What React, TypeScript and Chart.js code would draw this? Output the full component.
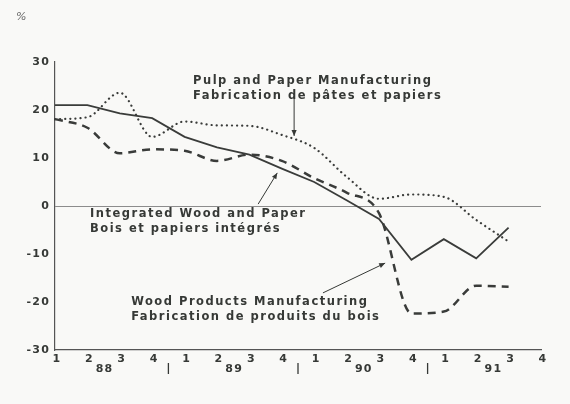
import { useEffect, useRef } from "react";
import { Chart, registerables } from "chart.js";

Chart.register(...registerables);

// ---- data ----
const quarters = ["1", "2", "3", "4", "1", "2", "3", "4", "1", "2", "3", "4", "1", "2", "3", "4"];
const years = ["88", "89", "90", "91"];
const yTicks = [30, 20, 10, 0, -10, -20, -30];

const integrated = [21, 21, 19.3, 18.3, 14.4, 12.2, 10.7, 7.8, 5, 1.2, -2.7, -11.2, -6.9, -10.9, -4.5, null];
const pulp = [18.1, 18.5, 23.6, 14.4, 17.6, 16.8, 16.7, 14.8, 12.1, 6.1, 1.5, 2.4, 1.9, -2.9, -7.4, null];
const wood = [18.1, 16.3, 11, 11.8, 11.5, 9.4, 10.7, 9.4, 5.8, 2.8, -1.5, -22.4, -22, -16.6, -16.8, null];

const pulpLabel = ["Pulp and Paper Manufacturing", "Fabrication de pâtes et papiers"];
const integratedLabel = ["Integrated Wood and Paper", "Bois et papiers intégrés"];
const woodLabel = ["Wood Products Manufacturing", "Fabrication de produits du bois"];

// annotation anchors in data units (x = quarter index, y = percent)
const annotations = [
  { lines: pulpLabel, tx: 4.26, ty: 26, ax0: 7.38, ay0: 22.4, ax1: 7.38, ay1: 14.6 },
  { lines: integratedLabel, tx: 1.08, ty: -1.7, ax0: 6.27, ay0: 0.4, ax1: 6.86, ay1: 6.9 },
  { lines: woodLabel, tx: 2.35, ty: -20, ax0: 8.27, ay0: -18.1, ax1: 10.19, ay1: -11.9 },
];

const INK = "#363936";
const LINE = "#3a3c3a";
const TEXT_FONT = "bold 11.5px 'DejaVu Sans'";
const TICK_FONT = "bold 11px 'DejaVu Sans'";

function arrowHead(ctx: CanvasRenderingContext2D, x0: number, y0: number, x1: number, y1: number) {
  const ang = Math.atan2(y1 - y0, x1 - x0);
  const len = 6;
  const w = 2.6;
  ctx.beginPath();
  ctx.moveTo(x1, y1);
  ctx.lineTo(x1 - len * Math.cos(ang) + w * Math.sin(ang), y1 - len * Math.sin(ang) - w * Math.cos(ang));
  ctx.lineTo(x1 - len * Math.cos(ang) - w * Math.sin(ang), y1 - len * Math.sin(ang) + w * Math.cos(ang));
  ctx.closePath();
  ctx.fill();
}

const decor = {
  id: "decor",
  beforeDraw(chart: any) {
    const { ctx, width, height } = chart;
    ctx.save();
    ctx.fillStyle = "#f9f9f7";
    ctx.fillRect(0, 0, width, height);
    ctx.restore();
  },
  afterDraw(chart: any) {
    const { ctx, chartArea } = chart;
    const x = chart.scales.x;
    const y = chart.scales.y;
    ctx.save();
    ctx.fillStyle = INK;
    ctx.strokeStyle = INK;
    (ctx as any).letterSpacing = "1.2px";

    // y tick labels
    ctx.font = TICK_FONT;
    ctx.textAlign = "right";
    ctx.textBaseline = "middle";
    yTicks.forEach((v) => {
      ctx.fillText(String(v), chartArea.left - 5, y.getPixelForValue(v));
    });

    // x tick labels
    ctx.textAlign = "center";
    quarters.forEach((q, i) => {
      ctx.fillText(q, x.getPixelForValue(i) + 2, chartArea.bottom + 9);
    });

    // year labels and separators
    ctx.lineWidth = 1.3;
    years.forEach((yr, k) => {
      const px = (x.getPixelForValue(4 * k + 1) + x.getPixelForValue(4 * k + 2)) / 2;
      ctx.fillText(yr, px + 1, chartArea.bottom + 19);
      if (k < years.length - 1) {
        const sx = (x.getPixelForValue(4 * k + 3) + x.getPixelForValue(4 * k + 4)) / 2;
        ctx.beginPath();
        ctx.moveTo(sx, chartArea.bottom + 13);
        ctx.lineTo(sx, chartArea.bottom + 24);
        ctx.stroke();
      }
    });

    // unit
    (ctx as any).letterSpacing = "0px";
    ctx.font = "italic 11px 'DejaVu Sans'";
    ctx.fillStyle = "#666";
    ctx.textAlign = "left";
    ctx.fillText("%", 16, 17);

    // annotations
    ctx.fillStyle = INK;
    ctx.font = TEXT_FONT;
    (ctx as any).letterSpacing = "1.5px";
    ctx.textAlign = "left";
    ctx.textBaseline = "middle";
    ctx.lineWidth = 1;
    annotations.forEach((a) => {
      const tx = x.getPixelForValue(a.tx);
      const ty = y.getPixelForValue(a.ty);
      a.lines.forEach((l, j) => ctx.fillText(l, tx, ty + j * 15));
      const x0 = x.getPixelForValue(a.ax0);
      const y0 = y.getPixelForValue(a.ay0);
      const x1 = x.getPixelForValue(a.ax1);
      const y1 = y.getPixelForValue(a.ay1);
      ctx.beginPath();
      ctx.moveTo(x0, y0);
      ctx.lineTo(x1, y1);
      ctx.stroke();
      arrowHead(ctx, x0, y0, x1, y1);
    });
    ctx.restore();
  },
};

export default function App() {
  const ref = useRef<HTMLCanvasElement | null>(null);

  useEffect(() => {
    if (!ref.current) return;
    const chart = new Chart(ref.current, {
      type: "line",
      data: {
        labels: quarters,
        datasets: [
          {
            label: "Integrated Wood and Paper",
            data: integrated,
            borderColor: LINE,
            borderWidth: 1.8,
            tension: 0,
            pointRadius: 0,
          },
          {
            label: "Pulp and Paper Manufacturing",
            data: pulp,
            borderColor: LINE,
            borderWidth: 2.2,
            borderDash: [0.1, 5],
            borderCapStyle: "round",
            cubicInterpolationMode: "monotone",
            pointRadius: 0,
          },
          {
            label: "Wood Products Manufacturing",
            data: wood,
            borderColor: LINE,
            borderWidth: 2.5,
            borderDash: [8, 6],
            cubicInterpolationMode: "monotone",
            pointRadius: 0,
          },
        ],
      },
      options: {
        animation: false,
        responsive: false,
        maintainAspectRatio: false,
        layout: { padding: { left: 55, right: 29, top: 62, bottom: 54 } },
        plugins: { legend: { display: false }, tooltip: { enabled: false } },
        scales: {
          x: {
            type: "category",
            offset: false,
            grid: { display: false, drawTicks: false },
            border: { display: true, color: "#555", width: 1.2 },
            ticks: { display: false },
          },
          y: {
            min: -30,
            max: 30,
            ticks: { display: false, stepSize: 10 },
            grid: {
              drawTicks: false,
              color: (c: any) => (c.tick && c.tick.value === 0 ? "#8c8c8c" : "rgba(0,0,0,0)"),
              lineWidth: 1,
            },
            border: { display: true, color: "#555", width: 1.2 },
          },
        },
      },
      plugins: [decor],
    });
    return () => chart.destroy();
  }, []);

  return (
    <div style={{ position: "fixed", left: 0, top: 0, width: 570, height: 404 }}>
      <canvas ref={ref} width={570} height={404} style={{ display: "block" }} />
    </div>
  );
}
